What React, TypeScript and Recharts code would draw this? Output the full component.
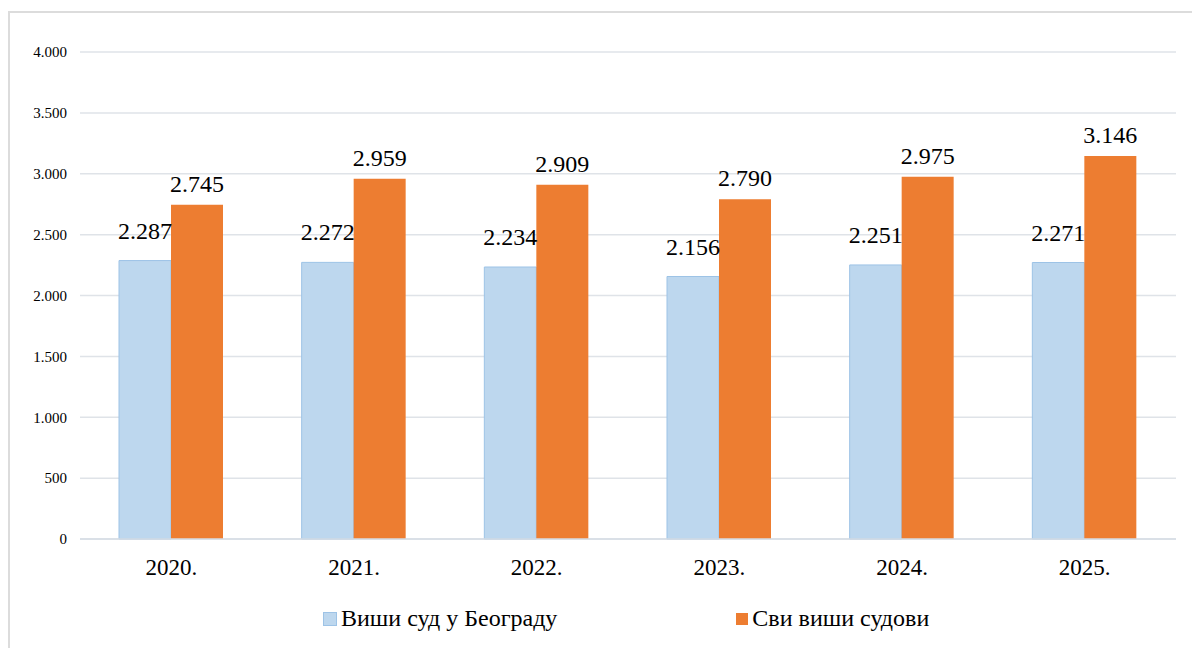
import { BarChart, Bar, XAxis, YAxis, CartesianGrid, Legend, LabelList } from "recharts"

const years = ["2020.", "2021.", "2022.", "2023.", "2024.", "2025."]
const belgradeCourt = [2287, 2272, 2234, 2156, 2251, 2271]
const allHigherCourts = [2745, 2959, 2909, 2790, 2975, 3146]
const yTicks = [0, 500, 1000, 1500, 2000, 2500, 3000, 3500, 4000]

const seriesNames = ["Виши суд у Београду", "Сви виши судови"]
const seriesColors = ["#BDD7EE", "#ED7D31"]

const FONT = "'Liberation Serif', Tinos, 'Times New Roman', Times, 'DejaVu Serif', serif"

// thousands with a dot, as in the source ("2.287")
const fmt = (v: number) => String(v).replace(/\B(?=(\d{3})+(?!\d))/g, ".")

const data = years.map((year, i) => ({
  year,
  belgrade: belgradeCourt[i],
  all: allHigherCourts[i],
}))

function LegendContent() {
  return (
    <div
      style={{
        height: 59,
        display: "flex",
        alignItems: "center",
        paddingLeft: 323,
        fontFamily: FONT,
        fontSize: 24,
        color: "#000",
      }}
    >
      <span style={{ display: "flex", alignItems: "center", marginRight: 179 }}>
        <span
          style={{
            width: 12,
            height: 12,
            background: seriesColors[0],
            border: "1px solid #9DC3E6",
            marginRight: 4,
          }}
        />
        {seriesNames[0]}
      </span>
      <span style={{ display: "flex", alignItems: "center" }}>
        <span style={{ width: 12, height: 12, background: seriesColors[1], marginRight: 4 }} />
        {seriesNames[1]}
      </span>
    </div>
  )
}

export default function App() {
  return (
    <div
      style={{
        position: "fixed",
        left: 0,
        top: 0,
        width: 1192,
        height: 648,
        overflow: "hidden",
        background: "#fff",
        fontFamily: FONT,
      }}
    >
      <div
        style={{
          position: "absolute",
          left: 8,
          top: 11,
          width: 1400,
          height: 800,
          borderTop: "2px solid #dcdcdc",
          borderLeft: "2px solid #dcdcdc",
        }}
      />
      <div style={{ position: "absolute", left: 0, top: 0 }}>
        <BarChart
          width={1192}
          height={648}
          data={data}
          margin={{ top: 52, right: 16, left: 0, bottom: 0 }}
          barSize={52}
          barGap={0}
          style={{ fontFamily: FONT }}
        >
          <CartesianGrid vertical={false} stroke="#dfe3e8" strokeWidth={1.5} />
          <XAxis
            dataKey="year"
            height={50}
            axisLine={{ stroke: "#d6dce4", strokeWidth: 1.5 }}
            tickLine={false}
            tickMargin={14}
            tick={{ fill: "#000", fontSize: 23, fontFamily: FONT }}
          />
          <YAxis
            width={80}
            domain={[0, 4000]}
            ticks={yTicks}
            interval={0}
            axisLine={false}
            tickLine={false}
            tickMargin={7}
            tickFormatter={fmt}
            tick={{ fill: "#000", fontSize: 15, fontFamily: FONT }}
          />
          <Legend verticalAlign="bottom" content={<LegendContent />} />
          <Bar
            dataKey="belgrade"
            name={seriesNames[0]}
            fill={seriesColors[0]}
            stroke="#9DC3E6"
            strokeWidth={1}
            isAnimationActive={false}
          >
            <LabelList
              dataKey="belgrade"
              position="top"
              offset={22}
              formatter={(v: any) => fmt(Number(v))}
              fill="#000"
              fontSize={24}
              fontFamily={FONT}
            />
          </Bar>
          <Bar
            dataKey="all"
            name={seriesNames[1]}
            fill={seriesColors[1]}
            isAnimationActive={false}
          >
            <LabelList
              dataKey="all"
              position="top"
              offset={13}
              formatter={(v: any) => fmt(Number(v))}
              fill="#000"
              fontSize={24}
              fontFamily={FONT}
            />
          </Bar>
        </BarChart>
      </div>
    </div>
  )
}
